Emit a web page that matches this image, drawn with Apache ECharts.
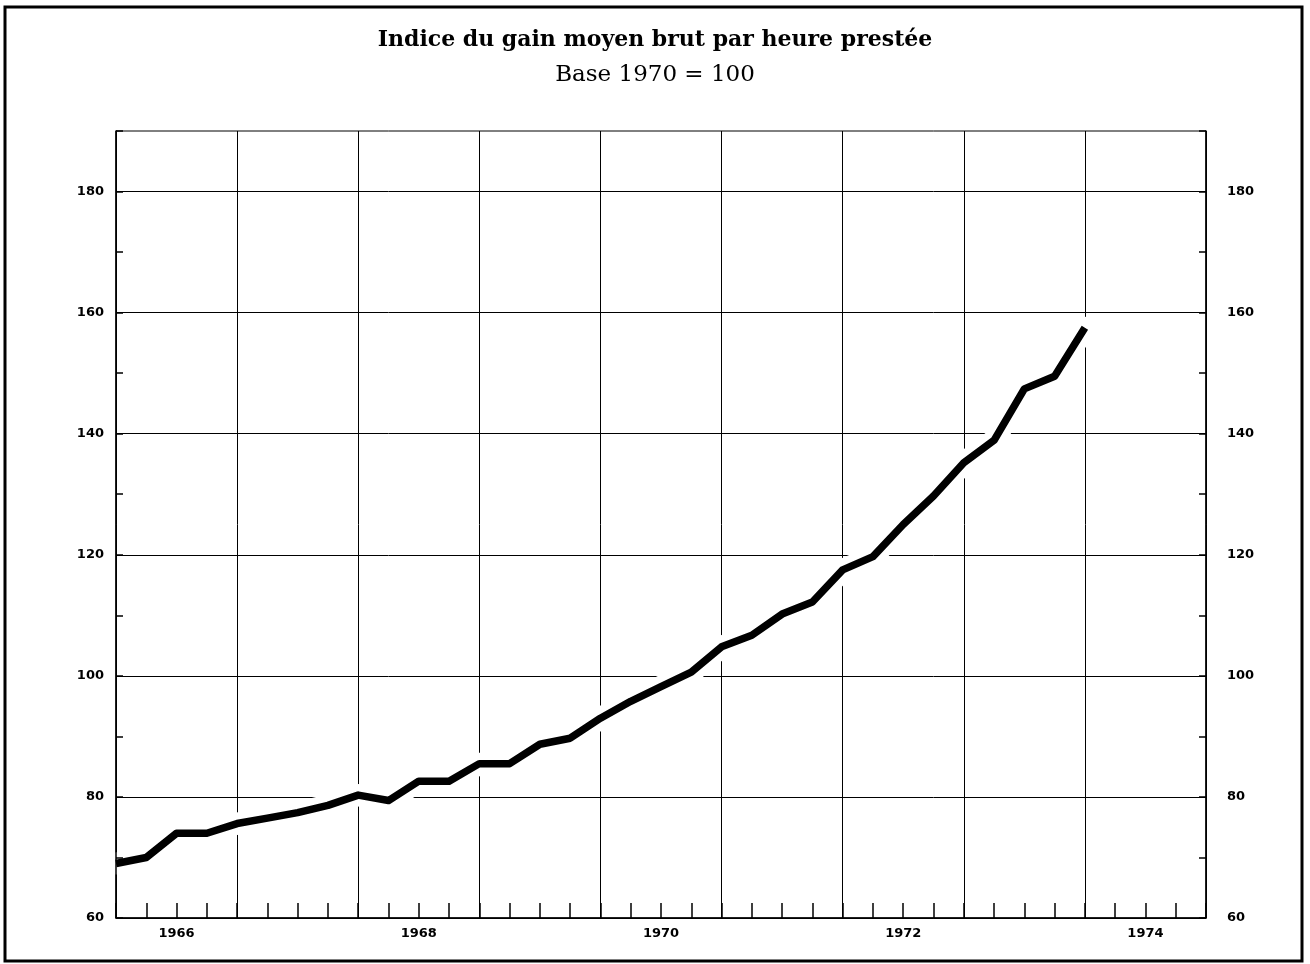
<!DOCTYPE html>
<html><head><meta charset="utf-8">
<script src="https://cdn.jsdelivr.net/npm/echarts@6/dist/echarts.min.js"></script>
<style>html,body{margin:0;padding:0;background:#fff}#c{width:1310px;height:964px}</style>
</head><body><div id="c"></div>
<script>
// ---- data ----
const titleText = 'Indice du gain moyen brut par heure prestée';
const subtitleText = 'Base 1970 = 100';
const firstYear = 1966;
const yearCount = 9;            // 1966 .. 1974
const quartersPerYear = 4;
const yearLabels = ['1966', '1968', '1970', '1972', '1974'];
const yLabels = [60, 80, 100, 120, 140, 160, 180];
const yMin = 60, yMax = 190;
// quarterly index values, 1966 Q1 .. 1974 Q1
const values = [69.0, 70.0, 74.0, 74.0, 75.6, 76.5, 77.4, 78.6,
                80.3, 79.4, 82.6, 82.6, 85.5, 85.5, 88.7, 89.7,
                93.0, 95.8, 98.2, 100.6, 104.8, 106.7, 110.2, 112.2,
                117.5, 119.7, 125.0, 129.7, 135.2, 138.9, 147.4, 149.5,
                157.5];

// ---- build ----
const xMax = yearCount * quartersPerYear;
const labelAt = {};
yearLabels.forEach(y => { labelAt[(Number(y) - firstYear) * quartersPerYear + quartersPerYear / 2] = y; });
const seriesData = values.map((v, i) => [i, v]);
const T = 'rgba(0,0,0,0)';

const chart = echarts.init(document.getElementById('c'), null, {renderer: 'canvas'});
const tickFont = {color: '#000', fontFamily: 'DejaVu Sans', fontWeight: 'bold', fontSize: 13};

chart.setOption({
  animation: false,
  backgroundColor: '#fff',
  title: [
    {text: titleText, left: 'center', top: 24,
     textStyle: {fontFamily: 'DejaVu Serif', fontWeight: 'bold', fontSize: 22, color: '#000'}},
    {text: subtitleText, left: 'center', top: 59,
     textStyle: {fontFamily: 'DejaVu Serif', fontWeight: 'normal', fontSize: 23, color: '#000'}}
  ],
  grid: {left: 116, right: 104, top: 131, bottom: 46, show: true, borderColor: '#000', borderWidth: 1, backgroundColor: 'transparent'},
  xAxis: [
    {type: 'value', min: 0, max: xMax, interval: 1, z: 0,
     axisLine: {show: false}, axisTick: {show: false}, axisLabel: {show: false},
     splitLine: {show: true, lineStyle: {color: ['#000', T, T, T], width: 1}}},
    {type: 'value', min: 0, max: xMax, interval: 1, position: 'bottom', z: 5,
     axisLine: {show: true, onZero: false, lineStyle: {color: '#000', width: 1.5}},
     axisTick: {show: true, inside: true, length: 15, lineStyle: {color: '#000', width: 1.5}},
     splitLine: {show: false},
     axisLabel: {show: true, margin: 9, ...tickFont, formatter: v => labelAt[v] || ''}}
  ],
  yAxis: [
    {type: 'value', min: yMin, max: yMax, interval: 10, position: 'left', z: 0,
     axisLine: {show: false}, axisTick: {show: false}, axisLabel: {show: false},
     splitLine: {show: true, lineStyle: {color: ['#000', T], width: 1}}},
    {type: 'value', min: yMin, max: yMax, interval: 10, position: 'left', z: 5,
     axisLine: {show: true, onZero: false, lineStyle: {color: '#000', width: 1.5}},
     axisTick: {show: true, inside: true, length: 7, lineStyle: {color: '#000', width: 1.5}},
     splitLine: {show: false},
     axisLabel: {show: true, margin: 12, ...tickFont, formatter: v => yLabels.includes(v) ? String(v) : ''}},
    {type: 'value', min: yMin, max: yMax, interval: 10, position: 'right', z: 5,
     axisLine: {show: true, onZero: false, lineStyle: {color: '#000', width: 1.5}},
     axisTick: {show: true, inside: true, length: 7, lineStyle: {color: '#000', width: 1.5}},
     splitLine: {show: false},
     axisLabel: {show: true, margin: 21, ...tickFont, formatter: v => yLabels.includes(v) ? String(v) : ''}}
  ],
  series: [
    {type: 'line', name: 'halo', data: seriesData, xAxisIndex: 0, yAxisIndex: 0, z: 2,
     showSymbol: false, silent: true,
     lineStyle: {color: '#fff', width: 22, cap: 'round', join: 'round'}},
    {type: 'line', name: 'Indice', data: seriesData, xAxisIndex: 0, yAxisIndex: 0, z: 3,
     showSymbol: false, silent: true,
     lineStyle: {color: '#000', width: 7.5, cap: 'butt', join: 'round'}}
  ],
  graphic: [
    {type: 'rect', z: 10, silent: true,
     shape: {x: 5, y: 7, width: 1297, height: 954},
     style: {fill: 'none', stroke: '#000', lineWidth: 3}}
  ]
});
</script>
</body></html>
